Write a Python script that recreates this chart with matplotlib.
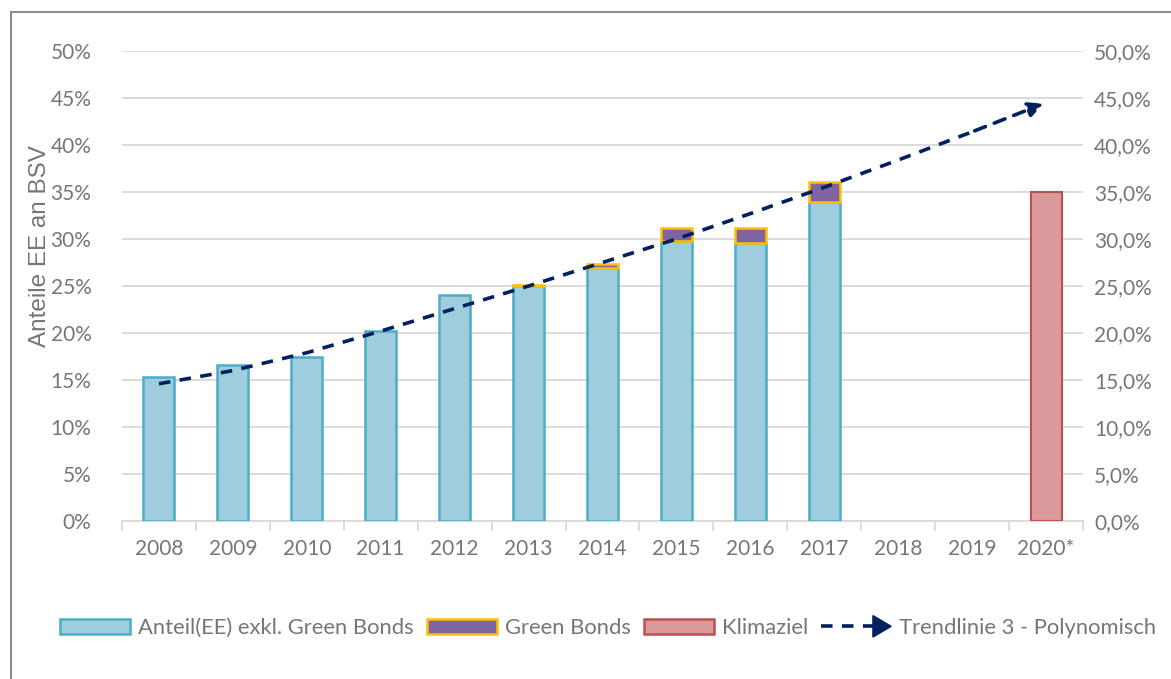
import numpy as np
import matplotlib.pyplot as plt
from matplotlib.patches import Rectangle, Patch, FancyArrow
from matplotlib.lines import Line2D
from matplotlib.legend_handler import HandlerBase

plt.rcParams['font.family'] = ['Lato', 'DejaVu Sans']

years = ['2008', '2009', '2010', '2011', '2012', '2013', '2014',
         '2015', '2016', '2017', '2018', '2019', '2020*']
# Anteil EE exkl. Green Bonds (%)
ee = [15.3, 16.6, 17.4, 20.2, 24.0, 25.0, 26.9, 29.8, 29.6, 33.9, 0, 0, 0]
# Green Bonds (%)
green = [0, 0, 0, 0, 0, 0.1, 0.4, 1.4, 1.6, 2.2, 0, 0, 0]
# Klimaziel (%)
klima = [0, 0, 0, 0, 0, 0, 0, 0, 0, 0, 0, 0, 35.0]
# Trendlinie 3 - Polynomisch (%)
trend = [14.6, 16.0, 17.9, 20.2, 22.6, 25.0, 27.5, 30.0, 32.7, 35.5, 38.4, 41.4, 44.5]

grey = '#767676'
navy = '#002060'
fs = 15

fig = plt.figure(figsize=(11.71, 6.79), dpi=100)
ax = fig.add_axes([122 / 1171, 1 - 521 / 679, 961 / 1171, 470 / 679])

x = np.arange(len(years))
w = 0.42
ee_a = np.array(ee) / 100
gr_a = np.array(green) / 100
kl_a = np.array(klima) / 100

m = ee_a > 0
ax.bar(x[m], ee_a[m], w, color='#a0cddd', edgecolor='#4bacc6', linewidth=1.8, zorder=3)
m = gr_a > 0
ax.bar(x[m], gr_a[m], w, bottom=ee_a[m], color='#8064a2',
       edgecolor='#ffc000', linewidth=1.8, zorder=3)
m = kl_a > 0
ax.bar(x[m], kl_a[m], w, color='#d89a9a', edgecolor='#c0504d',
       linewidth=1.5, zorder=3)

tr = np.array(trend) / 100
ax.plot(x[:-1], tr[:-1], color=navy, lw=2.6, dashes=(3.2, 2.6), zorder=4)
ax.annotate('', xy=(x[-1], tr[-1]), xytext=(x[-2], tr[-2]),
            arrowprops=dict(arrowstyle='-|>', color=navy, lw=2.6,
                            linestyle=(0, (3.2, 2.6)), mutation_scale=22),
            zorder=4)

ax.set_xlim(-0.5, len(years) - 0.5)
ax.set_ylim(0, 0.5)
yt = np.arange(0, 0.51, 0.05)
ax.set_yticks(yt)
ax.set_yticklabels(['%d%%' % round(v * 100) for v in yt])
ax.set_xticks(x)
ax.set_xticklabels(years)
ax.set_xticks(np.arange(-0.5, len(years)), minor=True)
ax.tick_params(axis='x', which='major', length=0, pad=13, labelsize=fs, labelcolor=grey)
ax.tick_params(axis='x', which='minor', length=7, color='#d9d9d9', width=1.2)
ax.tick_params(axis='y', length=0, pad=22, labelsize=fs, labelcolor=grey)
ax.grid(axis='y', color='#d9d9d9', lw=1.3, zorder=0)
for s in ['top', 'left', 'right']:
    ax.spines[s].set_visible(False)
ax.spines['bottom'].set_color('#d9d9d9')
ax.spines['bottom'].set_linewidth(1.3)
fig.text(40 / 1171, 1 - 246 / 679, 'Anteile EE an BSV', rotation=90, fontsize=17.5,
         color=grey, family='Liberation Sans', ha='center', va='center')

ax2 = ax.twinx()
ax2.set_ylim(0, 0.5)
ax2.set_yticks(yt)
ax2.set_yticklabels([('%.1f%%' % (v * 100)).replace('.', ',') for v in yt])
ax2.tick_params(axis='y', length=0, pad=8, labelsize=fs, labelcolor=grey)
for s in ax2.spines.values():
    s.set_visible(False)

# figure border
fig.patches.append(Rectangle((11 / 1171, -0.05), 1.2, 1 - 12 / 679 + 0.05,
                             transform=fig.transFigure, fill=False,
                             edgecolor='#8c8c8c', lw=1.5, zorder=0))


class ArrowHandler(HandlerBase):
    def create_artists(self, legend, orig, xd, yd, width, height, fontsize, trans):
        y = height / 2 - yd
        ln = Line2D([-xd, -xd + width * 0.75], [y, y], color=navy, lw=2.6,
                    dashes=(3.2, 2.6), transform=trans)
        ar = FancyArrow(-xd + width * 0.72, y, width * 0.28, 0, width=0.0,
                        head_width=height * 1.4, head_length=width * 0.26,
                        length_includes_head=True, color=navy, transform=trans)
        return [ln, ar]


handles = [Patch(facecolor='#a0cddd', edgecolor='#4bacc6', lw=1.8),
           Patch(facecolor='#8064a2', edgecolor='#ffc000', lw=1.8),
           Patch(facecolor='#d89a9a', edgecolor='#c0504d', lw=1.8),
           Line2D([], [], color=navy)]
labels = ['Anteil(EE) exkl. Green Bonds', 'Green Bonds', 'Klimaziel',
          'Trendlinie 3 - Polynomisch']
leg = fig.legend(handles, labels, loc='center left', bbox_to_anchor=(60 / 1171, 1 - 628 / 679),
                 ncol=4, frameon=False, fontsize=15.8, handlelength=3.2,
                 handleheight=0.7, handletextpad=0.35, columnspacing=0.6,
                 borderpad=0, borderaxespad=0,
                 handler_map={Line2D: ArrowHandler()})
for t in leg.get_texts():
    t.set_color(grey)

fig.savefig('out.png', dpi=100)
